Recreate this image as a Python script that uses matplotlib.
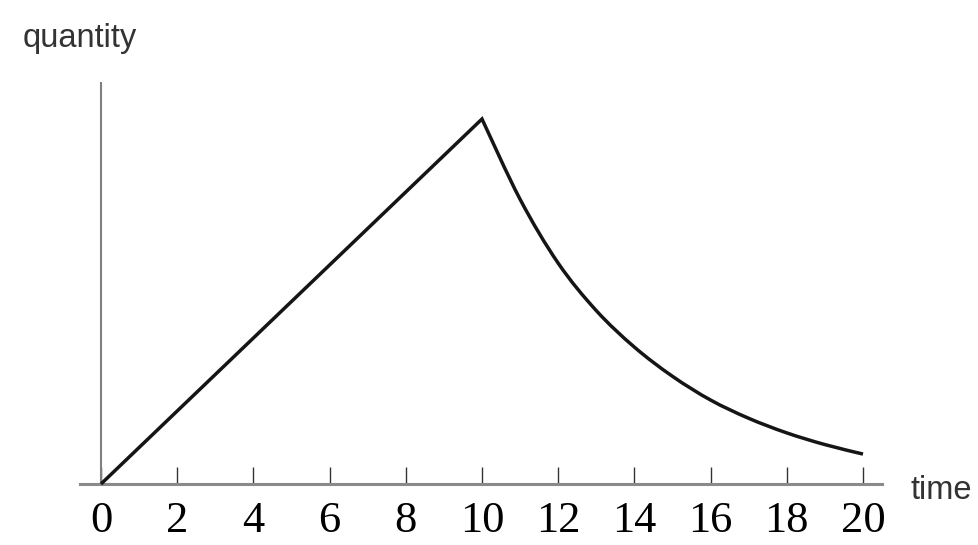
import matplotlib
matplotlib.use("Agg")
import matplotlib.pyplot as plt
from matplotlib.path import Path
from matplotlib.patches import PathPatch

# data
rise_time = [0, 10]
rise_qty = [0, 100]
decay_time = [10, 11, 12, 13, 14, 15, 16, 17, 18, 19, 20]
decay_qty = [100, 78, 60.5, 47.5, 37.5, 29.5, 23, 18, 14, 10.8, 8.2]
tick_values = [0, 2, 4, 6, 8, 10, 12, 14, 16, 18, 20]
tick_labels = ["0", "2", "4", "6", "8", "10", "12", "14", "16", "18", "20"]

W, H = 979, 545
fig = plt.figure(figsize=(W / 100, H / 100), dpi=100)
ax = fig.add_axes([0, 0, 1, 1])

x0_px, y0_px = 101, 484
sx, sy = 38.1, 3.65
ax.set_xlim(-x0_px / sx, (W - x0_px) / sx)
ax.set_ylim((y0_px - H) / sy, y0_px / sy)

# build the line: straight rise, then a smooth (Catmull-Rom as Bezier) decay
verts = [(rise_time[0], rise_qty[0]), (rise_time[1], rise_qty[1])]
codes = [Path.MOVETO, Path.LINETO]
pts = list(zip(decay_time, decay_qty))
n = len(pts)
for i in range(n - 1):
    p0 = pts[i - 1] if i > 0 else pts[i]
    p1 = pts[i]
    p2 = pts[i + 1]
    p3 = pts[i + 2] if i + 2 < n else pts[i + 1]
    c1 = (p1[0] + (p2[0] - p0[0]) / 6, p1[1] + (p2[1] - p0[1]) / 6)
    c2 = (p2[0] - (p3[0] - p1[0]) / 6, p2[1] - (p3[1] - p1[1]) / 6)
    verts += [c1, c2, p2]
    codes += [Path.CURVE4] * 3
ax.add_patch(PathPatch(Path(verts, codes), facecolor="none", edgecolor="#151515",
                       lw=2.5, joinstyle="miter", capstyle="butt", zorder=3))

for s in ["top", "right"]:
    ax.spines[s].set_visible(False)
ax.spines["left"].set_position(("data", 0))
ax.spines["bottom"].set_position(("data", 0))
ax.spines["left"].set_bounds(0, 110)
ax.spines["bottom"].set_bounds(-0.55, 20.5)
ax.spines["left"].set_color("#808080")
ax.spines["left"].set_linewidth(1.5)
ax.spines["bottom"].set_color("#8a8a8a")
ax.spines["bottom"].set_linewidth(2.2)

ax.set_yticks([])
ax.set_xticks(tick_values)
ax.set_xticklabels(tick_labels, fontfamily=["Liberation Serif", "DejaVu Serif"],
                   fontsize=32, color="#000000")
ax.tick_params(axis="x", direction="in", length=12, width=1, color="#333333",
               pad=12)

ax.patch.set_visible(False)

sans = ["Liberation Sans", "DejaVu Sans"]
fig.text(23 / W, 1 - 47 / H, "quantity", fontfamily=sans, fontsize=23.5,
         color="#333333", ha="left", va="baseline")
fig.text(911 / W, 1 - 499 / H, "time", fontfamily=sans, fontsize=23.5,
         color="#333333", ha="left", va="baseline")

fig.savefig("out.png", dpi=100)
